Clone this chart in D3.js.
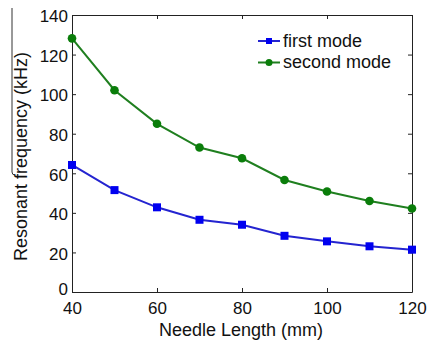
<!DOCTYPE html>
<html>
<head>
<meta charset="utf-8">
<script src="https://cdn.jsdelivr.net/npm/d3@7"></script>
<style>
  body { margin: 0; background: #fff; }
  svg { display: block; font-family: "Liberation Sans", Arial, sans-serif; }
  .axis path, .axis line { stroke: #222; }
  .axis text { font-size: 17px; fill: #111; font-family: "Liberation Sans", Arial, sans-serif; }
</style>
</head>
<body>
<svg></svg>
<script>
// Data
const lengths = [40, 50, 60, 70, 80, 90, 100, 110, 120]
const firstMode = [64.2, 51.5, 42.8, 36.5, 34.0, 28.4, 25.6, 23.1, 21.4]
const secondMode = [128.2, 102, 85, 73, 67.6, 56.6, 50.8, 46, 42.2]
const xTicks = [40, 60, 80, 100, 120]
const yTicks = [0, 20, 40, 60, 80, 100, 120, 140]

const width = 427, height = 342
const margin = { top: 15, right: 15, bottom: 50, left: 72 }

const svg = d3.select('svg').attr('width', width).attr('height', height)

const x = d3.scaleLinear().domain([40, 120]).range([margin.left, width - margin.right])
const y = d3.scaleLinear().domain([0, 140]).range([height - margin.bottom, margin.top])

const tickLen = 4

// Axes: bottom/left with labels, top/right ticks only (inner ticks)
const xAxis = svg.append('g').attr('class', 'axis')
    .attr('transform', `translate(0, ${y(0)})`)
    .call(d3.axisBottom(x).tickValues(xTicks).tickSize(-tickLen).tickSizeOuter(0))
xAxis.selectAll('text').attr('y', 21.5).attr('dy', null)

const yAxis = svg.append('g').attr('class', 'axis')
    .attr('transform', `translate(${x(40)}, 0)`)
    .call(d3.axisLeft(y).tickValues(yTicks).tickSize(-tickLen).tickSizeOuter(0).tickPadding(4))
yAxis.selectAll('text').attr('dy', d => d === 0 ? '0.12em' : '0.4em')

svg.append('g').attr('class', 'axis')
    .attr('transform', `translate(0, ${y(140)})`)
    .call(d3.axisTop(x).tickValues(xTicks).tickSize(-tickLen).tickSizeOuter(0).tickFormat(''))
svg.append('g').attr('class', 'axis')
    .attr('transform', `translate(${x(120)}, 0)`)
    .call(d3.axisRight(y).tickValues(yTicks).tickSize(-tickLen).tickSizeOuter(0).tickFormat(''))

// Axis titles
svg.append('text')
    .attr('x', (x(40) + x(120)) / 2 - 1).attr('y', height - 6)
    .attr('text-anchor', 'middle').attr('font-size', 18).attr('fill', '#111')
    .text('Needle Length (mm)')
svg.append('text')
    .attr('transform', `translate(27, ${(y(0) + y(140)) / 2 + 3}) rotate(-90)`)
    .attr('text-anchor', 'middle').attr('font-size', 18).attr('fill', '#111')
    .text('Resonant frequency (kHz)')

// stray line at left edge of the scan
svg.append('path').attr('d', 'M12,8 V172 Q12,175 15,175').attr('fill', 'none').attr('stroke', '#333').attr('stroke-width', 1)

const line = d3.line().x((d, i) => x(lengths[i])).y(d => y(d))

const blue = '#0000f0', blueLine = '#2424d0', green = '#0a7d0a', greenLine = '#1f7f1f'

svg.append('path').datum(firstMode).attr('d', line)
    .attr('fill', 'none').attr('stroke', blueLine).attr('stroke-width', 2)
svg.append('g').selectAll('rect').data(firstMode).join('rect')
    .attr('x', (d, i) => x(lengths[i]) - 4).attr('y', d => y(d) - 4)
    .attr('width', 8).attr('height', 8).attr('fill', blue)

svg.append('path').datum(secondMode).attr('d', line)
    .attr('fill', 'none').attr('stroke', greenLine).attr('stroke-width', 2)
svg.append('g').selectAll('circle').data(secondMode).join('circle')
    .attr('cx', (d, i) => x(lengths[i])).attr('cy', d => y(d)).attr('r', 4.3)
    .attr('fill', green)

// Legend
const legend = [
    { name: 'first mode', color: blue, lineColor: blueLine, shape: 'square' },
    { name: 'second mode', color: green, lineColor: greenLine, shape: 'circle' }
]
const lg = svg.append('g').attr('transform', 'translate(258, 41)')
legend.forEach((l, i) => {
    const g = lg.append('g').attr('transform', `translate(0, ${i * 21.5})`)
    g.append('line').attr('x1', 0).attr('x2', 22).attr('stroke', l.lineColor).attr('stroke-width', 2)
    if (l.shape === 'square') g.append('rect').attr('x', 8).attr('y', -3).attr('width', 6).attr('height', 6).attr('fill', l.color)
    else g.append('circle').attr('cx', 11).attr('r', 3.5).attr('fill', l.color)
    g.append('text').attr('x', 25).attr('y', 5.5).attr('font-size', 18).attr('fill', '#111').text(l.name)
})
</script>
</body>
</html>
